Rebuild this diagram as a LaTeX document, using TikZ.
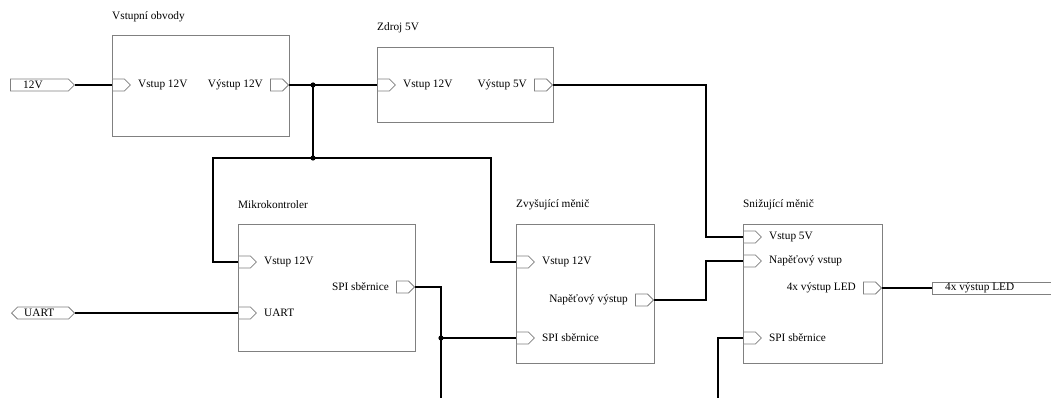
\documentclass[tikz,border=0pt]{standalone}
\usepackage{fontspec}
\setmainfont{Liberation Serif}
\usetikzlibrary{shapes.symbols}
\begin{document}
\begin{tikzpicture}[x=1pt,y=-1pt,
  box/.style={draw=black!50, line width=0.9pt, rectangle, anchor=north west, inner sep=0},
  port/.style={signal, signal to=east, draw=black!50, line width=0.8pt, fill=white,
     minimum width=18pt, minimum height=12pt, inner sep=0},
  ext/.style={signal, draw=black!50, line width=0.8pt, fill=white,
     minimum height=12pt, inner sep=0},
  txt/.style={font=\fontsize{11.3}{13}\selectfont, inner sep=0},
  wire/.style={draw=black, line width=1.4pt},
  dot/.style={fill=black}
]
\useasboundingbox (0,0) rectangle (1051,398);

% boxes
\node[box, minimum width=177pt, minimum height=101pt] (vo) at (112,35) {};
\node[box, minimum width=176pt, minimum height=75pt] (zd) at (377,47) {};
\node[box, minimum width=177pt, minimum height=127pt] (mk) at (238,224) {};
\node[box, minimum width=138pt, minimum height=139pt] (zv) at (516,224) {};
\node[box, minimum width=139pt, minimum height=139pt] (sn) at (743,224) {};

% titles
\node[txt, anchor=west] (tvo) at (112,17) {Vstupní obvody};
\node[txt, anchor=west] (tzd) at (377,28) {Zdroj 5V};
\node[txt, anchor=west] (tmk) at (238,205) {Mikrokontroler};
\node[txt, anchor=west] (tzv) at (516,205) {Zvyšující měnič};
\node[txt, anchor=west] (tsn) at (743,205) {Snižující měnič};

% ports: inputs
\node[port, anchor=west] (voin) at (112,85) {};
\node[txt, anchor=west] at ([xshift=7pt]voin.east) {Vstup 12V};
\node[port, anchor=west] (zdin) at (377,85) {};
\node[txt, anchor=west] at ([xshift=7pt]zdin.east) {Vstup 12V};
\node[port, anchor=west] (mkin) at (238,262) {};
\node[txt, anchor=west] at ([xshift=7pt]mkin.east) {Vstup 12V};
\node[port, anchor=west] (mkuart) at (238,313) {};
\node[txt, anchor=west] at ([xshift=7pt]mkuart.east) {UART};
\node[port, anchor=west] (zvin) at (516,262) {};
\node[txt, anchor=west] at ([xshift=7pt]zvin.east) {Vstup 12V};
\node[port, anchor=west] (zvspi) at (516,338) {};
\node[txt, anchor=west] at ([xshift=7pt]zvspi.east) {SPI sběrnice};
\node[port, anchor=west] (snin) at (743,237) {};
\node[txt, anchor=west] at ([xshift=7pt]snin.east) {Vstup 5V};
\node[port, anchor=west] (snnap) at (743,261) {};
\node[txt, anchor=west] at ([xshift=7pt]snnap.east) {Napěťový vstup};
\node[port, anchor=west] (snspi) at (743,338) {};
\node[txt, anchor=west] at ([xshift=7pt]snspi.east) {SPI sběrnice};

% ports: outputs
\node[port, anchor=east] (voout) at (289,85) {};
\node[txt, anchor=east] at ([xshift=-7pt]voout.west) {Výstup 12V};
\node[port, anchor=east] (zdout) at (553,85) {};
\node[txt, anchor=east] at ([xshift=-7pt]zdout.west) {Výstup 5V};
\node[port, anchor=east] (mkspi) at (415,287) {};
\node[txt, anchor=east] at ([xshift=-7pt]mkspi.west) {SPI sběrnice};
\node[port, anchor=east] (zvout) at (654,300) {};
\node[txt, anchor=east] at ([xshift=-7pt]zvout.west) {Napěťový výstup};
\node[port, anchor=east] (snled) at (882,288) {};
\node[txt, anchor=east] at ([xshift=-7pt]snled.west) {4x výstup LED};

% external labels
\node[ext, signal to=east, minimum width=64pt, anchor=west] (l12) at (10,85) {};
\node[txt, anchor=west] at ([xshift=13pt]l12.west) {12V};
\node[ext, signal to=east and west, minimum width=63pt, anchor=west] (luart) at (11,313) {};
\node[txt, anchor=west] at ([xshift=13pt]luart.west) {UART};
\node[draw=black!50, line width=0.8pt, rectangle, minimum width=140pt, minimum height=12pt, inner sep=0, anchor=west] (lled) at (932,288) {};
\node[txt, anchor=west] at ([xshift=13pt]lled.west) {4x výstup LED};

% junctions and free ends
\coordinate (j1) at (313,85);
\coordinate (j2) at (313,158);
\coordinate (j3) at (441,338);
\coordinate (e1) at (441,402);
\coordinate (e2) at (718,402);

% wires
\draw[wire] (l12.east) -- (voin.west);
\draw[wire] (voout.east) -- (zdin.west);
\draw[wire] (j1) -- (j2);
\draw[wire] (mkin.west) -| (213,158) -| (491,262) -- (zvin.west);
\draw[wire] (zdout.east) -| (706,237) -- (snin.west);
\draw[wire] (zvout.east) -| (706,261) -- (snnap.west);
\draw[wire] (luart.east) -- (mkuart.west);
\draw[wire] (mkspi.east) -| (e1);
\draw[wire] (j3) -- (zvspi.west);
\draw[wire] (snspi.west) -| (e2);
\draw[wire] (snled.east) -- (lled.west);

\fill[dot] (j1) circle (2.6);
\fill[dot] (j2) circle (2.6);
\fill[dot] (j3) circle (2.6);
\end{tikzpicture}
\end{document}
